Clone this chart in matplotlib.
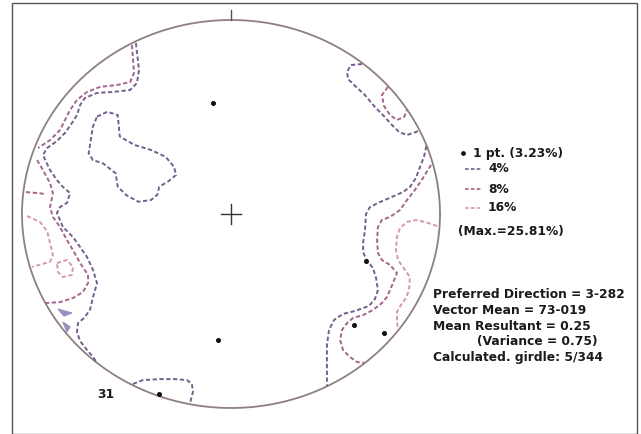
import numpy as np
import matplotlib.pyplot as plt
from matplotlib.lines import Line2D
from matplotlib.patches import Polygon, Rectangle

plt.rcParams['font.family'] = ['DejaVu Sans']

W, H = 641, 434

# poles, projected onto the unit net (x east, y north)
poles_x = [-0.086, 0.646, 0.589, 0.732, -0.062, -0.344]
poles_y = [0.572, -0.242, -0.572, -0.613, -0.649, -0.928]

# 4% contour pieces
c4_island = [(-0.641, 0.502), (-0.592, 0.527), (-0.542, 0.510), (-0.532, 0.399), (-0.462, 0.356),
             (-0.383, 0.330), (-0.313, 0.295), (-0.273, 0.244), (-0.263, 0.201), (-0.303, 0.166),
             (-0.343, 0.141), (-0.353, 0.098), (-0.383, 0.072), (-0.443, 0.063), (-0.502, 0.098),
             (-0.542, 0.141), (-0.552, 0.210), (-0.612, 0.261), (-0.661, 0.278), (-0.681, 0.313),
             (-0.671, 0.381), (-0.661, 0.450), (-0.641, 0.502)]
c4_west = [(-0.455, 0.881), (-0.440, 0.742), (-0.450, 0.675), (-0.483, 0.639), (-0.565, 0.629),
           (-0.641, 0.624), (-0.699, 0.598), (-0.722, 0.562), (-0.737, 0.510), (-0.761, 0.469),
           (-0.794, 0.418), (-0.833, 0.376), (-0.880, 0.340), (-0.900, 0.304), (-0.866, 0.227),
           (-0.833, 0.175), (-0.804, 0.139), (-0.770, 0.108), (-0.785, 0.057), (-0.818, 0.036),
           (-0.833, 0.005), (-0.804, -0.067), (-0.756, -0.119), (-0.722, -0.170), (-0.689, -0.222),
           (-0.660, -0.289), (-0.641, -0.356), (-0.660, -0.428), (-0.675, -0.495), (-0.703, -0.536),
           (-0.732, -0.562), (-0.737, -0.608), (-0.722, -0.655), (-0.689, -0.701), (-0.660, -0.737),
           (-0.641, -0.768)]
c4_ne = [(0.627, 0.773), (0.574, 0.768), (0.555, 0.732), (0.560, 0.696), (0.589, 0.665),
         (0.641, 0.613), (0.684, 0.557), (0.727, 0.510), (0.770, 0.459), (0.804, 0.423),
         (0.842, 0.407), (0.885, 0.423), (0.902, 0.430)]
c4_east = [(0.935, 0.350), (0.923, 0.294), (0.904, 0.242), (0.885, 0.186), (0.856, 0.139),
           (0.823, 0.113), (0.770, 0.088), (0.713, 0.062), (0.665, 0.036), (0.646, 0.0),
           (0.641, -0.082), (0.632, -0.149), (0.632, -0.196), (0.651, -0.242), (0.679, -0.278),
           (0.694, -0.330), (0.703, -0.392), (0.689, -0.438), (0.660, -0.474), (0.593, -0.500),
           (0.536, -0.515), (0.493, -0.546), (0.469, -0.598), (0.459, -0.675), (0.459, -0.763),
           (0.459, -0.887)]
c4_south = [(-0.469, -0.876), (-0.421, -0.856), (-0.340, -0.851), (-0.268, -0.851), (-0.211, -0.856),
            (-0.187, -0.876), (-0.182, -0.918), (-0.191, -0.954), (-0.196, -0.978)]

# 8% contour pieces
c8_nw = [(-0.474, 0.871), (-0.464, 0.727), (-0.483, 0.680), (-0.545, 0.665), (-0.627, 0.655),
         (-0.689, 0.629), (-0.737, 0.588), (-0.770, 0.536), (-0.794, 0.485), (-0.818, 0.433),
         (-0.866, 0.381), (-0.923, 0.340)]
c8_west = [(-0.928, 0.278), (-0.900, 0.227), (-0.866, 0.160), (-0.852, 0.108), (-0.866, 0.036),
           (-0.852, -0.015), (-0.818, -0.067), (-0.785, -0.134), (-0.756, -0.186), (-0.722, -0.253),
           (-0.684, -0.314), (-0.684, -0.356), (-0.708, -0.402), (-0.756, -0.433), (-0.818, -0.454),
           (-0.886, -0.459)]
c8_west_stub = [(-0.981, 0.113), (-0.928, 0.108), (-0.885, 0.103)]
c8_ne = [(0.751, 0.655), (0.722, 0.613), (0.732, 0.557), (0.761, 0.510), (0.794, 0.485),
         (0.828, 0.500), (0.842, 0.536)]
c8_east = [(0.957, 0.253), (0.919, 0.186), (0.880, 0.124), (0.842, 0.072), (0.809, 0.021),
           (0.761, -0.015), (0.722, -0.031), (0.703, -0.067), (0.699, -0.134), (0.703, -0.201),
           (0.722, -0.237), (0.761, -0.263), (0.794, -0.304), (0.775, -0.356), (0.761, -0.392),
           (0.746, -0.428), (0.722, -0.459), (0.679, -0.495), (0.632, -0.521), (0.584, -0.536),
           (0.555, -0.562), (0.531, -0.598), (0.522, -0.649), (0.536, -0.701), (0.569, -0.737),
           (0.603, -0.763), (0.640, -0.768)]

# 16% contour pieces
c16_west = [(-0.976, -0.010), (-0.914, -0.041), (-0.880, -0.088), (-0.866, -0.149), (-0.852, -0.211),
            (-0.866, -0.247), (-0.904, -0.258), (-0.952, -0.273)]
c16_loop = [(-0.833, -0.253), (-0.785, -0.237), (-0.756, -0.273), (-0.761, -0.314), (-0.804, -0.325),
            (-0.828, -0.299), (-0.833, -0.253)]
c16_east = [(0.986, -0.062), (0.928, -0.041), (0.885, -0.031), (0.842, -0.041), (0.809, -0.072),
            (0.794, -0.119), (0.789, -0.186), (0.799, -0.237), (0.823, -0.273), (0.856, -0.325),
            (0.852, -0.392), (0.837, -0.433), (0.813, -0.469), (0.794, -0.505), (0.794, -0.557),
            (0.799, -0.598)]
c16_cells = [[(-0.828, -0.490), (-0.761, -0.510), (-0.799, -0.526)],
             [(-0.804, -0.557), (-0.770, -0.582), (-0.785, -0.608)]]

levels = ['4%', '8%', '16%']
level_colors = {'4%': '#74608c', '8%': '#a4668a', '16%': '#d29ab4'}
contours = {'4%': [c4_island, c4_west, c4_ne, c4_east, c4_south],
            '8%': [c8_nw, c8_west, c8_west_stub, c8_ne, c8_east],
            '16%': [c16_west, c16_loop, c16_east]}

stats = ['Preferred Direction = 3-282',
         'Vector Mean = 73-019',
         'Mean Resultant = 0.25',
         '(Variance = 0.75)',
         'Calculated. girdle: 5/344']
n_points = 31

fig = plt.figure(figsize=(W / 100, H / 100), dpi=100)
fig.patch.set_facecolor('white')

# frame round the whole window
fig.add_artist(Rectangle((11.5 / W, 0), (637 - 11.5) / W, 1 - 3 / H, transform=fig.transFigure,
                         fill=False, edgecolor='#555555', lw=1.0))

# net: unit circle stretched to the window's pixel aspect
cx, cy, rx, ry = 231, 214, 209, 194
ax = fig.add_axes([(cx - rx) / W, (H - cy - ry) / H, 2 * rx / W, 2 * ry / H])
ax.set_xlim(-1, 1)
ax.set_ylim(-1, 1)
ax.axis('off')

t = np.linspace(0, 2 * np.pi, 400)
ax.plot(np.cos(t), np.sin(t), color='#8f7f80', lw=1.3, clip_on=False)
ax.plot([0, 0], [1, 1.05], color='#555555', lw=1.0, clip_on=False)
ax.plot([-0.048, 0.048], [0, 0], color='#333333', lw=1.0)
ax.plot([0, 0], [-0.052, 0.052], color='#333333', lw=1.0)

for lev in levels:
    for seg in contours[lev]:
        xs, ys = zip(*seg)
        ax.plot(xs, ys, color=level_colors[lev], lw=1.4, ls=(0, (2.2, 1.3)), clip_on=False)
for cell in c16_cells:
    ax.add_patch(Polygon(cell, closed=True, facecolor='#9c8cc0', edgecolor='#9c8cc0', lw=0.8))

ax.plot(poles_x, poles_y, 'o', color='#111111', ms=2.6, ls='none')

# legend
def fx(x):
    return x / W

def fy(y):
    return 1 - y / H

tkw = dict(fontsize=8.8, fontweight='bold', color='#1a1a1a', va='center')
fig.add_artist(Line2D([fx(463)], [fy(153)], marker='o', ms=2.4, color='#111111', ls='none',
                      transform=fig.transFigure))
fig.text(fx(473), fy(153), '1 pt. (3.23%)', **tkw)
for lev, y in zip(levels, [169, 189, 208]):
    fig.add_artist(Line2D([fx(465), fx(482)], [fy(y), fy(y)], color=level_colors[lev], lw=1.2,
                          ls=(0, (2.2, 1.3)), transform=fig.transFigure))
    fig.text(fx(488), fy(y), lev, **tkw)
fig.text(fx(458), fy(231), '(Max.=25.81%)', **tkw)

stat_x = [433, 433, 433, 477, 433]
for s, x, y in zip(stats, stat_x, [295, 311, 327, 342, 358]):
    fig.text(fx(x), fy(y), s, **tkw)

fig.text(fx(97), fy(395), str(n_points), **tkw)

fig.savefig('out.png', dpi=100, facecolor='white')
